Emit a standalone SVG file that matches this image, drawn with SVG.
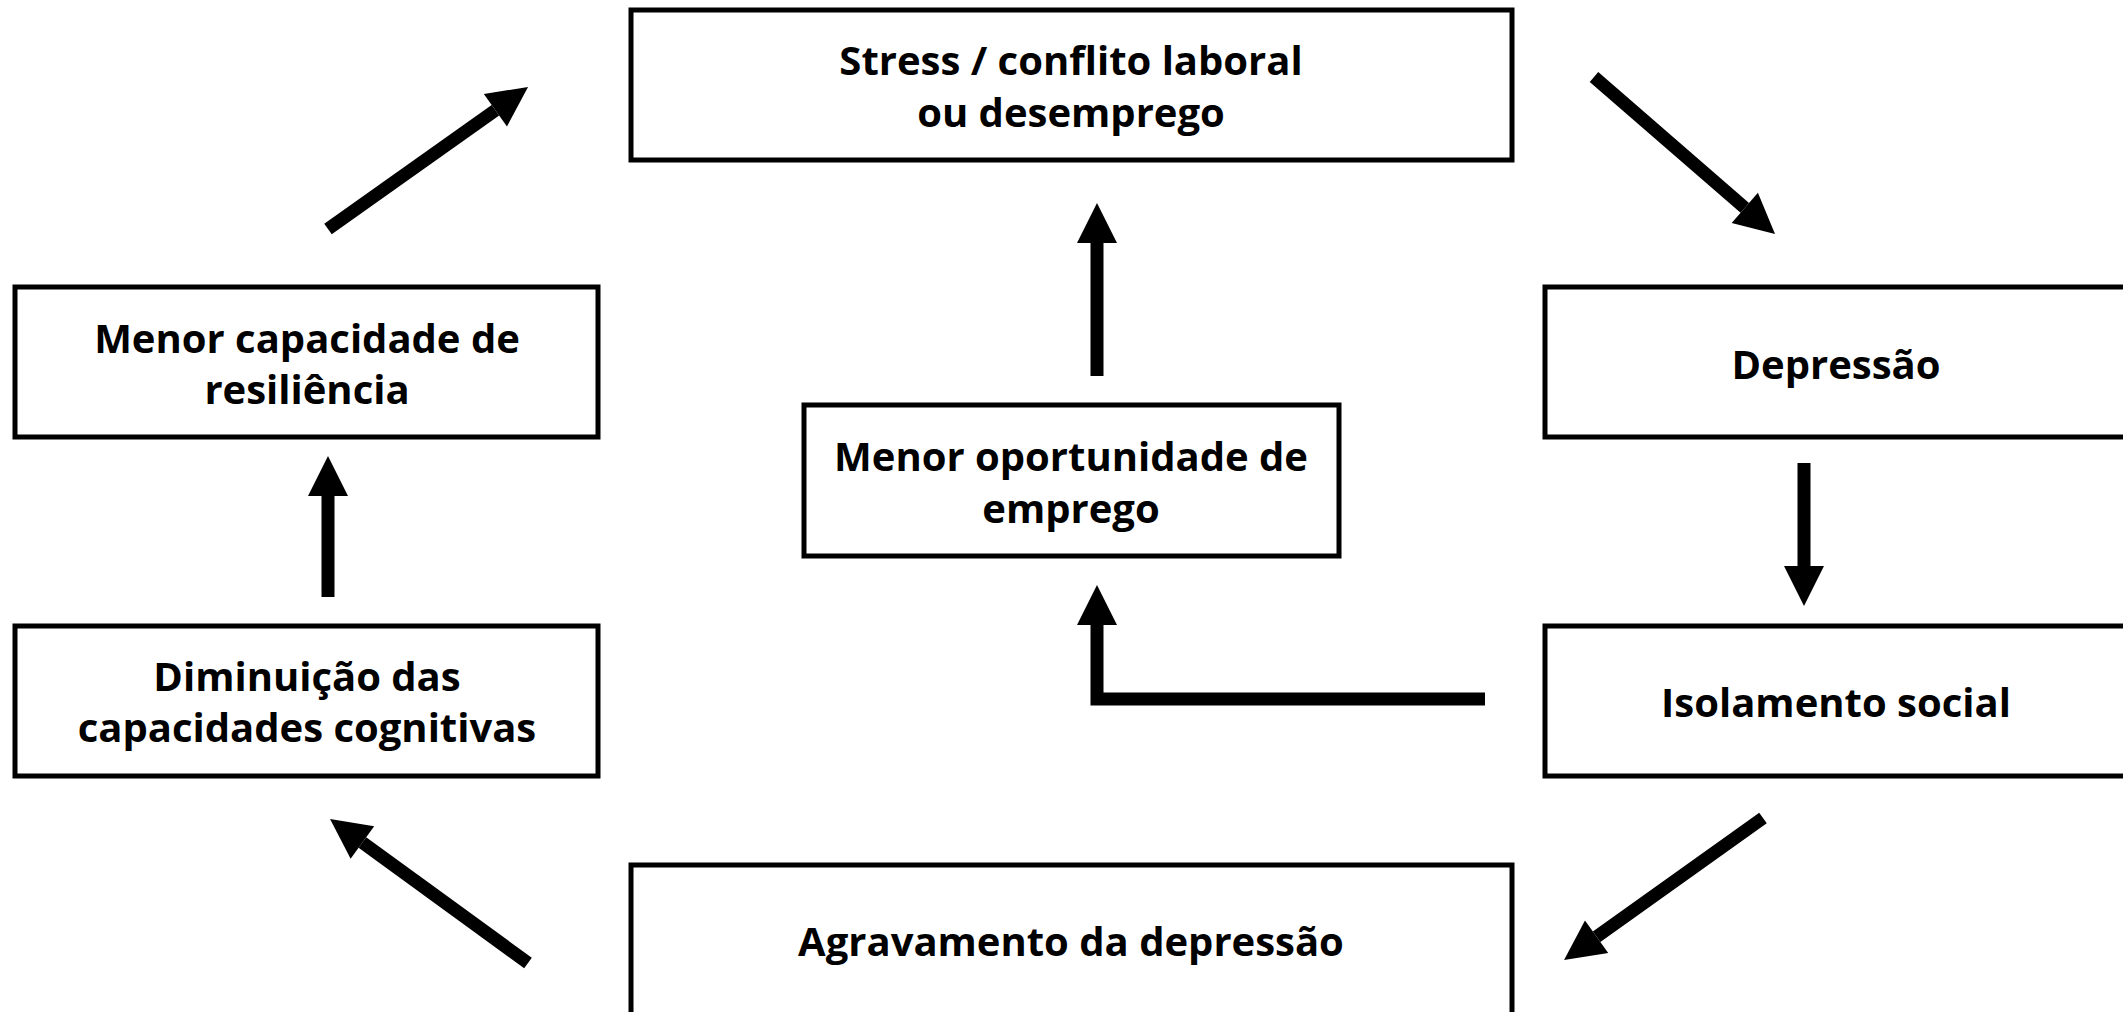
<svg xmlns="http://www.w3.org/2000/svg" width="2123" height="1012" viewBox="0 0 2123 1012">
<style>
.box{fill:#fff;stroke:#000;stroke-width:5}
.t{font-family:"Open Sans","Noto Sans",sans-serif;font-weight:700;font-size:40px;fill:#000;text-anchor:middle}
.c{fill:none;stroke:#000;stroke-width:13;stroke-linecap:butt;stroke-linejoin:miter}
</style>
<defs>
<marker id="ah" markerUnits="userSpaceOnUse" markerWidth="40" markerHeight="40" refX="0" refY="20" orient="auto" viewBox="0 0 40 40" overflow="visible">
<path d="M0,0 L40,20 L0,40 z" fill="#000"/>
</marker>
</defs>
<rect width="2123" height="1012" fill="#fff"/>
<g id="n-stress"><rect class="box" x="631" y="10" width="881" height="150"/><text class="t" x="1071" y="75">Stress / conflito laboral</text><text class="t" x="1071" y="127">ou desemprego</text></g>
<g id="n-resiliencia"><rect class="box" x="15" y="287" width="583" height="150"/><text class="t" x="307" y="353">Menor capacidade de</text><text class="t" x="307" y="404">resiliência</text></g>
<g id="n-cognitivas"><rect class="box" x="15" y="626" width="583" height="150"/><text class="t" x="307" y="691">Diminuição das</text><text class="t" x="307" y="742">capacidades cognitivas</text></g>
<g id="n-oportunidade"><rect class="box" x="804" y="405" width="535" height="151"/><text class="t" x="1071" y="471">Menor oportunidade de</text><text class="t" x="1071" y="523">emprego</text></g>
<g id="n-depressao"><rect class="box" x="1545" y="287" width="583" height="150"/><text class="t" x="1836" y="379">Depressão</text></g>
<g id="n-isolamento"><rect class="box" x="1545" y="626" width="583" height="150"/><text class="t" x="1836" y="717">Isolamento social</text></g>
<g id="n-agravamento"><rect class="box" x="631" y="865" width="881" height="152"/><text class="t" x="1071" y="956">Agravamento da depressão</text></g>
<g id="connectors">
<line class="c" x1="328" y1="229" x2="495.4" y2="110.2" marker-end="url(#ah)"/>
<line class="c" x1="1594" y1="77" x2="1744.8" y2="207.8" marker-end="url(#ah)"/>
<line class="c" x1="1804" y1="463" x2="1804" y2="566" marker-end="url(#ah)"/>
<line class="c" x1="1763" y1="818" x2="1596.6" y2="936.8" marker-end="url(#ah)"/>
<line class="c" x1="528" y1="963" x2="362.4" y2="842.5" marker-end="url(#ah)"/>
<line class="c" x1="328" y1="597" x2="328" y2="496" marker-end="url(#ah)"/>
<line class="c" x1="1097" y1="376" x2="1097" y2="243" marker-end="url(#ah)"/>
<polyline class="c" points="1485,699 1097,699 1097,625" marker-end="url(#ah)"/>
</g>
</svg>
